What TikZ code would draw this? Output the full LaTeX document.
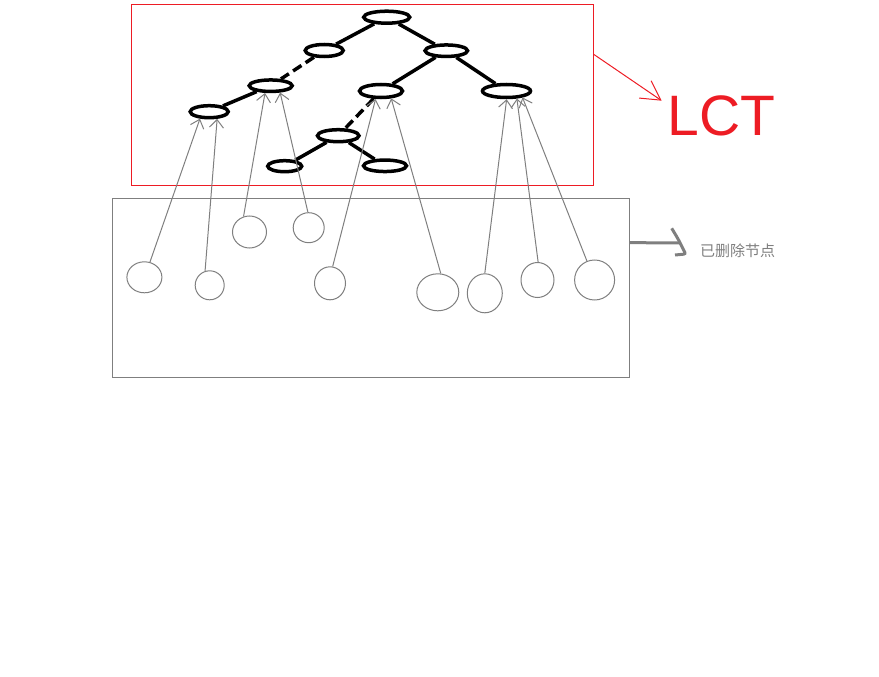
\documentclass[tikz,border=0pt]{standalone}
\usepackage{fontspec}
\usetikzlibrary{arrows.meta,shapes.geometric,calc}
\newfontfamily\cjk{Noto Sans CJK SC}
\newfontfamily\lctfont{Liberation Sans}
\definecolor{lctred}{HTML}{ED1C24}
\definecolor{ptrgray}{HTML}{7F7F7F}
\tikzset{
  tnode/.style={draw,ellipse,line width=3.5pt,inner sep=0pt},
  tedge/.style={line width=3.5pt},
  tdashed/.style={line width=3.5pt,dash pattern=on 10pt off 5pt},
  leaf/.style={draw=ptrgray,ellipse,line width=1pt,inner sep=0pt},
  ptr/.style={draw=ptrgray,line width=1pt,{Straight Barb[length=8pt,width=14pt]}-},
}
\newcommand{\tn}[5]{\node[tnode,minimum width=#4pt,minimum height=#5pt] (#1) at (#2,#3) {};}
\newcommand{\lf}[5]{\node[leaf,minimum width=#4pt,minimum height=#5pt] (#1) at (#2,#3) {};}

\begin{document}
\begin{tikzpicture}[x=1pt,y=-1pt]
\useasboundingbox (0,0) rectangle (879,677);
% splay tree (LCT)
\node[draw=lctred,line width=1pt,minimum width=462pt,minimum height=181pt,inner sep=0pt] (lctbox) at (362,95) {};
\tn{root}{386.7}{17.2}{46}{12}
\tn{l1}{324.2}{50.5}{38}{12}
\tn{r1}{446.3}{50.7}{42.5}{11.5}
\tn{l2}{270.7}{85.7}{43}{11.5}
\tn{l3}{209.2}{111.7}{38}{12}
\tn{m2}{381}{91}{43}{13}
\tn{rr2}{506.5}{91}{48}{13}
\tn{m3}{338.2}{135.7}{41.5}{12}
\tn{m4a}{284.7}{166.2}{34}{11}
\tn{m4b}{385}{165.8}{43}{11.5}
\draw[tedge] (root) -- (l1);
\draw[tedge] (root) -- (r1);
\draw[tdashed] (l1) -- (l2);
\draw[tedge] (l2) -- (l3);
\draw[tedge] (r1) -- (m2);
\draw[tedge] (r1) -- (rr2);
\draw[tdashed] (m2) -- (m3);
\draw[tedge] (m3) -- (m4a);
\draw[tedge] (m3) -- (m4b);
% deleted nodes
\node[draw=ptrgray,line width=1pt,minimum width=517pt,minimum height=179pt,inner sep=0pt] (delbox) at (371.2,288.3) {};
\lf{c1}{144.4}{277.3}{35}{31}
\lf{c2}{209.7}{285.3}{29}{29}
\lf{c3}{249.5}{232}{34}{32}
\lf{c4}{308.7}{227.7}{31}{30}
\lf{c5}{330}{283.3}{31}{33}
\lf{c6}{437.8}{292.3}{42}{37}
\lf{c7}{484.8}{293.3}{35}{39}
\lf{c8}{537.5}{280}{33}{35}
\lf{c9}{594.6}{280}{40}{40}
\draw[ptr] (l3.-143) -- (c1.70);
\draw[ptr] (l3.-42) -- (c2.108);
\draw[ptr] (l2.-128) -- (c3.111);
\draw[ptr] (l2.-36) -- (c4.93);
\draw[ptr] (m2.-124) -- (c5.81);
\draw[ptr] (m2.-36) -- (c6.81);
\draw[ptr] (rr2.-89) -- (c7.90);
\draw[ptr] (rr2.-36) -- (c8.88);
\draw[ptr] (rr2.-22) -- (c9.112);
% labels
\coordinate (lcttip) at (661.7,100.7);
\draw[lctred,line width=1pt,-{Straight Barb[length=19pt,width=21pt]}] (lctbox.10) -- (lcttip);
\node[text=lctred,font=\lctfont\fontsize{57}{57}\selectfont,inner sep=0pt] (lct) at (721.5,116) {LCT};
\coordinate (delhook) at (680,243);
\draw[ptrgray,line width=3pt] (delbox.10.5) -- (delhook);
\draw[ptrgray,line width=3pt,rounded corners=2pt] (671.7,228.3) -- (677.7,238.3) -- (685.7,254) -- (675,255);
\node[text=ptrgray,font=\cjk\fontsize{15}{15}\selectfont,anchor=west,inner sep=0pt] (deltext) at (700,250.3) {已删除节点};
\end{tikzpicture}
\end{document}
